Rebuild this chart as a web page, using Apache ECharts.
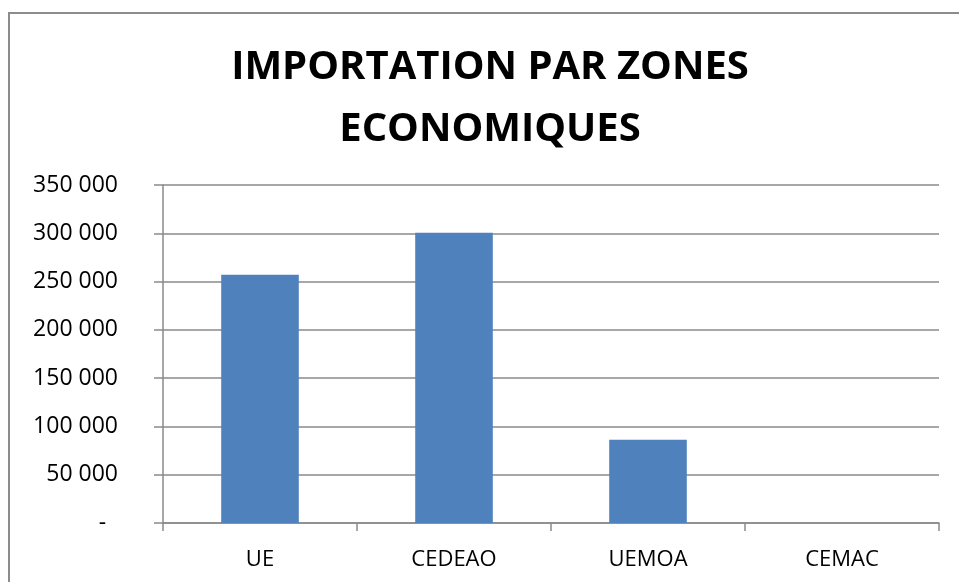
<!DOCTYPE html>
<html>
<head>
<meta charset="utf-8">
<script src="https://cdn.jsdelivr.net/npm/echarts@6/dist/echarts.min.js"></script>
<style>
  html, body { margin: 0; padding: 0; background: #fff; }
  #chart { width: 959px; height: 582px; }
</style>
</head>
<body>
<div id="chart"></div>
<script>
// données
var zones = ['UE', 'CEDEAO', 'UEMOA', 'CEMAC']
var importations = [257000, 300500, 86300, 0]
var yTicks = [0, 50000, 100000, 150000, 200000, 250000, 300000, 350000]

var barColor = '#4F81BD'
var gridColor = '#8a8a8a'
var font = 'Open Sans'

function fmt(v) {
    if (v === 0) return '-  '
    return String(v).replace(/\B(?=(\d{3})+(?!\d))/g, ' ')
}

var chart = echarts.init(document.getElementById('chart'))
var option = {
    animation: false,
    title: {
        text: 'IMPORTATION PAR ZONES\nECONOMIQUES',
        left: 490,
        textAlign: 'center',
        top: 37,
        padding: 0,
        textStyle: {
            fontFamily: font,
            fontWeight: 'bold',
            fontSize: 40,
            lineHeight: 62,
            color: '#000'
        }
    },
    graphic: [{
        type: 'rect',
        shape: { x: 9, y: 13, width: 1000, height: 700 },
        style: { fill: 'none', stroke: '#8c8c8c', lineWidth: 2 },
        silent: true
    }],
    grid: { left: 163, right: 20, top: 185, bottom: 59 },
    xAxis: {
        type: 'category',
        data: zones,
        axisLine: { lineStyle: { color: gridColor, width: 1.5 } },
        axisTick: { show: true, length: 8, lineStyle: { color: gridColor, width: 1.5 } },
        axisLabel: { margin: 26, fontFamily: font, fontSize: 22, color: '#000' }
    },
    yAxis: {
        type: 'value',
        min: yTicks[0],
        max: yTicks[yTicks.length - 1],
        interval: yTicks[1] - yTicks[0],
        axisLine: { show: true, lineStyle: { color: gridColor, width: 1.5 } },
        axisTick: { show: true, length: 9, lineStyle: { color: gridColor, width: 1.5 } },
        splitLine: { lineStyle: { color: gridColor, width: 1.5 } },
        axisLabel: {
            margin: 45,
            fontFamily: font,
            fontSize: 23,
            color: '#000',
            formatter: fmt
        }
    },
    series: [{
        type: 'bar',
        data: importations,
        barCategoryGap: '60%',
        itemStyle: { color: barColor }
    }]
}
chart.setOption(option)
</script>
</body>
</html>
